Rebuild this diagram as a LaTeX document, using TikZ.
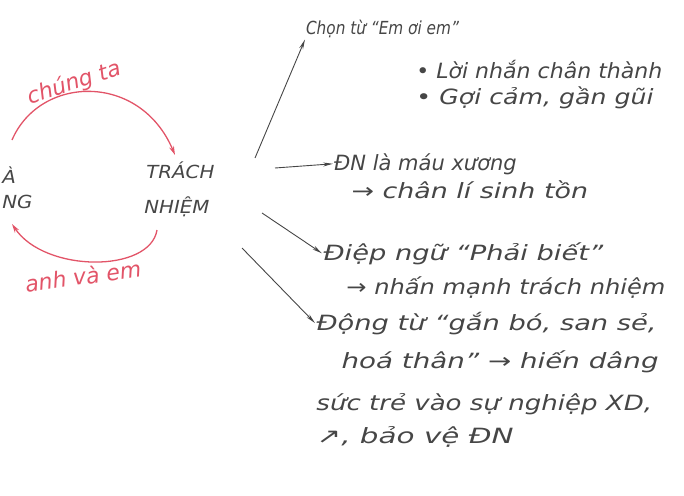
\documentclass[tikz,border=0pt]{standalone}
\usepackage{fontspec}
\setmainfont{DejaVu Sans}
\usetikzlibrary{arrows.meta}
\definecolor{penred}{RGB}{226,84,104}
\definecolor{pengray}{RGB}{70,70,70}
\tikzset{
  hand/.style={font=\fontsize{21}{24}\selectfont\itshape, text=pengray, inner sep=1pt, anchor=base west},
  handsm/.style={hand, font=\fontsize{18}{20}\selectfont\itshape},
  caps/.style={font=\fontsize{18}{20}\selectfont\itshape, text=pengray, inner sep=1pt, xscale=1.1},
  redlab/.style={font=\fontsize{22}{24}\selectfont\itshape, text=penred, inner sep=1pt},
  redarr/.style={-{Stealth[length=9pt,width=5pt]}, penred, line width=1.3pt},
  blkarr/.style={-{Stealth[length=10pt,width=4pt]}, pengray, line width=0.9pt},
}
\begin{document}
\begin{tikzpicture}[x=1pt,y=-1pt]
  \useasboundingbox (0,0) rectangle (684,495);
  \node[caps, anchor=base west] (la) at (1,183) {À};
  \node[caps, anchor=base west] (ng) at (1,208) {NG};
  \node[caps, anchor=base west] (trach) at (145,178) {TRÁCH};
  \node[caps, anchor=base west] (nhiem) at (143,213) {NHIỆM};
  \node[redlab, rotate=18] (chung) at (74,83) {chúng ta};
  \node[redlab, rotate=8] (anhem) at (83,276) {anh và em};
  \coordinate (top0) at (12,140);
  \coordinate (top1) at (175,155);
  \coordinate (bot0) at (157,230);
  \coordinate (bot1) at (12,224);
  \draw[redarr] (top0) .. controls (40,75) and (140,72) .. (top1);
  \draw[redarr] (bot0) .. controls (150,273) and (45,273) .. (bot1);
  \node[handsm, xscale=0.85] (chon) at (305,35) {Chọn từ “Em ơi em”};
  \node[hand, xscale=1.05] (loi) at (415,78) {• Lời nhắn chân thành};
  \node[hand, xscale=1.2] (goi) at (415,104) {• Gợi cảm, gần gũi};
  \node[hand] (dn) at (333,170) {ĐN là máu xương};
  \node[hand, xscale=1.28] (chanli) at (350,198) {→ chân lí sinh tồn};
  \node[hand, xscale=1.3] (diep) at (322,260) {Điệp ngữ “Phải biết”};
  \node[hand, xscale=1.15] (nhan) at (345,294) {→ nhấn mạnh trách nhiệm};
  \node[hand, xscale=1.3] (dong) at (315,330) {Động từ “gắn bó, san sẻ,};
  \node[hand, xscale=1.32] (hoa) at (340,368) {hoá thân” → hiến dâng};
  \node[hand, xscale=1.24] (suc) at (315,410) {sức trẻ vào sự nghiệp XD,};
  \node[hand, xscale=1.4] (bao) at (315,443) {↗, bảo vệ ĐN};
  \coordinate (s1) at (255,158);
  \coordinate (s2) at (275,168);
  \coordinate (s3) at (262,213);
  \coordinate (s4) at (242,248);
  \draw[blkarr] (s1) -- (chon.south west);
  \draw[blkarr] (s2) -- (dn.west);
  \draw[blkarr] (s3) -- (diep.west);
  \draw[blkarr] (s4) -- (dong.west);
\end{tikzpicture}
\end{document}
